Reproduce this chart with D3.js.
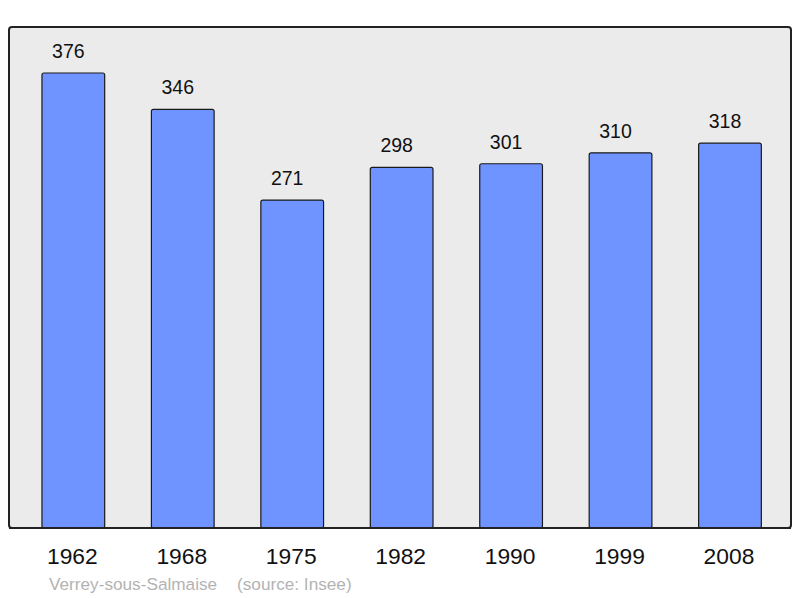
<!DOCTYPE html>
<html>
<head>
<meta charset="utf-8">
<script src="https://cdn.jsdelivr.net/npm/d3@7"></script>
<style>
body { margin: 0; background: #fff; }
text { font-family: "Liberation Sans", Arial, sans-serif; }
</style>
</head>
<body>
<svg width="800" height="598"></svg>
<script>
var years = ["1962", "1968", "1975", "1982", "1990", "1999", "2008"];
var population = [376, 346, 271, 298, 301, 310, 318];
var commune = "Verrey-sous-Salmaise";
var source = "(source: Insee)";

var svg = d3.select("svg");

var x = d3.scaleBand()
    .domain(years)
    .range([18.6, 784.7])
    .paddingInner(0.427)
    .paddingOuter(0.2135);

var y = d3.scaleLinear()
    .domain([0, 414])
    .range([528, 27]);

// panel
svg.append("rect")
    .attr("x", 9).attr("y", 27)
    .attr("width", 782).attr("height", 501)
    .attr("rx", 3)
    .attr("fill", "#ebebeb")
    .attr("stroke", "#222")
    .attr("stroke-width", 2);

var data = years.map(function(d, i) { return {year: d, value: population[i]}; });

svg.selectAll(".bar")
    .data(data)
    .enter().append("rect")
    .attr("class", "bar")
    .attr("x", function(d) { return x(d.year); })
    .attr("y", function(d) { return y(d.value); })
    .attr("width", x.bandwidth())
    .attr("height", function(d) { return y(0) - y(d.value); })
    .attr("rx", 2)
    .attr("fill", "#7094ff")
    .attr("stroke", "#1a1a1a")
    .attr("stroke-width", 1.2);

// redraw the panel bottom line over the bars
svg.append("line")
    .attr("x1", 9).attr("x2", 791)
    .attr("y1", 528).attr("y2", 528)
    .attr("stroke", "#222")
    .attr("stroke-width", 2);

svg.selectAll(".val")
    .data(data)
    .enter().append("text")
    .attr("class", "val")
    .attr("x", function(d) { return x(d.year) + x.bandwidth() / 2 - 5; })
    .attr("y", function(d) { return y(d.value) - 15; })
    .attr("text-anchor", "middle")
    .attr("font-size", 19.5)
    .attr("fill", "#111")
    .text(function(d) { return d.value; });

var xAxis = svg.append("g")
    .attr("transform", "translate(0,528)")
    .call(d3.axisBottom(x).tickSize(0).tickPadding(0));
xAxis.select(".domain").remove();
xAxis.selectAll("text")
    .attr("x", -1)
    .attr("y", 36)
    .attr("dy", 0)
    .attr("font-size", 22.8)
    .attr("font-family", "Liberation Sans, Arial, sans-serif")
    .attr("fill", "#111");

svg.append("text")
    .attr("x", 49).attr("y", 590)
    .attr("font-size", 17.2)
    .attr("fill", "#b3b3b3")
    .text(commune);

svg.append("text")
    .attr("x", 237).attr("y", 590)
    .attr("font-size", 17.2)
    .attr("fill", "#b3b3b3")
    .text(source);
</script>
</body>
</html>
